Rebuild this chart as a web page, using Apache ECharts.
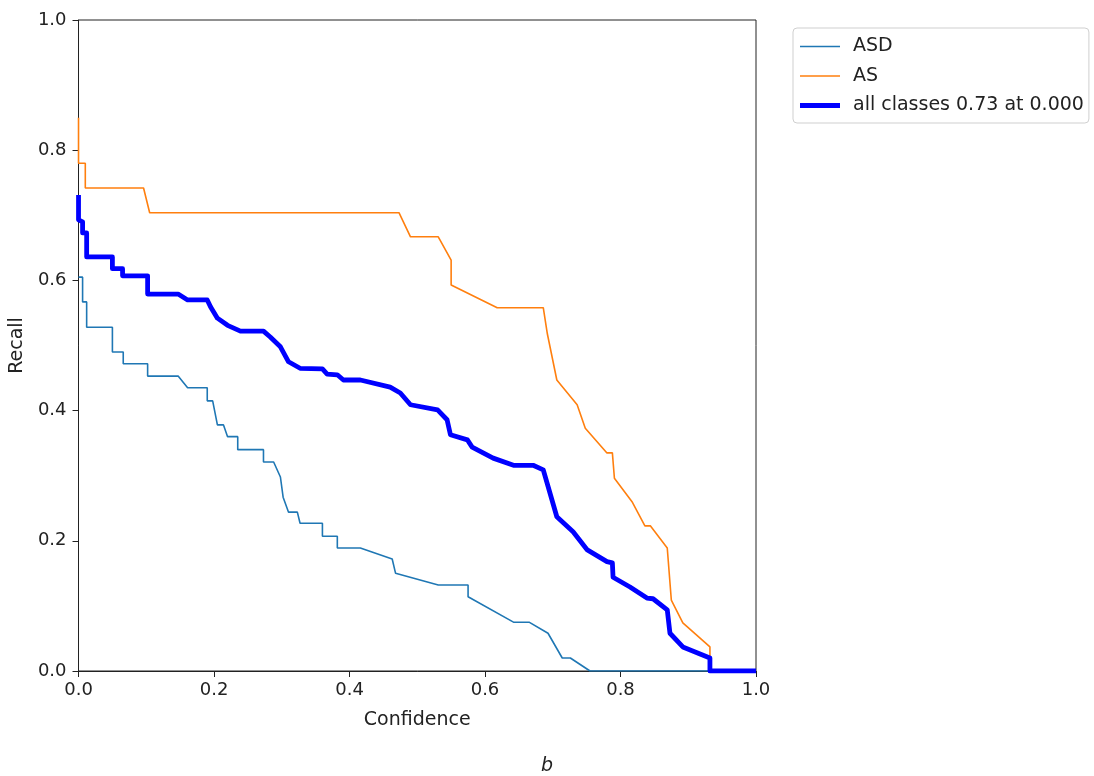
<!DOCTYPE html>
<html>
<head>
<meta charset="UTF-8">
<title>Recall-Confidence</title>
<script src="https://cdn.jsdelivr.net/npm/echarts@6/dist/echarts.min.js"></script>
<style>
  html, body { margin: 0; padding: 0; background: #fff; }
  #main { width: 1094px; height: 776px; }
</style>
</head>
<body>
<div id="main"></div>
<script type="text/javascript">
// data: [confidence, recall]
var asdData = [
  [0, 0.605], [0.006, 0.605], [0.006, 0.567], [0.012, 0.567], [0.012, 0.528],
  [0.050, 0.528], [0.050, 0.490], [0.066, 0.490], [0.066, 0.472], [0.102, 0.472],
  [0.102, 0.453], [0.147, 0.453], [0.161, 0.435], [0.190, 0.435], [0.190, 0.415],
  [0.198, 0.415], [0.205, 0.378], [0.214, 0.378], [0.220, 0.360], [0.235, 0.360],
  [0.235, 0.340], [0.273, 0.340], [0.273, 0.321], [0.288, 0.321], [0.298, 0.298],
  [0.302, 0.267], [0.310, 0.244], [0.323, 0.244], [0.327, 0.227], [0.360, 0.227],
  [0.360, 0.207], [0.382, 0.207], [0.382, 0.189], [0.416, 0.189], [0.463, 0.172],
  [0.468, 0.150], [0.531, 0.132], [0.575, 0.132], [0.575, 0.114], [0.642, 0.075],
  [0.665, 0.075], [0.693, 0.058], [0.714, 0.020], [0.726, 0.020], [0.755, 0],
  [1, 0]
];
var asData = [
  [0, 0.85], [0, 0.78], [0.010, 0.78], [0.010, 0.742], [0.096, 0.742],
  [0.105, 0.704], [0.473, 0.704], [0.490, 0.667], [0.531, 0.667], [0.550, 0.631],
  [0.550, 0.593], [0.618, 0.558], [0.686, 0.558], [0.692, 0.518], [0.706, 0.447],
  [0.736, 0.409], [0.748, 0.373], [0.780, 0.335], [0.788, 0.335], [0.791, 0.296],
  [0.817, 0.260], [0.836, 0.223], [0.844, 0.223], [0.869, 0.189], [0.875, 0.109],
  [0.892, 0.074], [0.932, 0.037], [0.932, 0], [1, 0]
];
var allData = [
  [0, 0.731], [0, 0.693], [0.006, 0.690], [0.006, 0.673], [0.012, 0.673],
  [0.012, 0.636], [0.050, 0.636], [0.050, 0.618], [0.065, 0.618], [0.065, 0.607],
  [0.102, 0.607], [0.102, 0.579], [0.147, 0.579], [0.161, 0.570], [0.190, 0.570],
  [0.195, 0.559], [0.205, 0.542], [0.220, 0.531], [0.239, 0.522], [0.273, 0.522],
  [0.283, 0.513], [0.298, 0.498], [0.310, 0.475], [0.327, 0.465], [0.360, 0.464],
  [0.367, 0.456], [0.382, 0.455], [0.391, 0.447], [0.416, 0.447], [0.460, 0.436],
  [0.475, 0.427], [0.490, 0.409], [0.530, 0.401], [0.544, 0.386], [0.549, 0.363],
  [0.574, 0.355], [0.581, 0.344], [0.612, 0.327], [0.642, 0.316], [0.671, 0.316],
  [0.686, 0.309], [0.706, 0.237], [0.730, 0.214], [0.751, 0.186], [0.780, 0.168],
  [0.788, 0.166], [0.789, 0.144], [0.814, 0.129], [0.839, 0.112], [0.848, 0.111],
  [0.869, 0.094], [0.873, 0.058], [0.892, 0.037], [0.932, 0.020], [0.932, 0],
  [1, 0]
];
var seriesNames = ['ASD', 'AS', 'all classes 0.73 at 0.000'];
var seriesColors = ['#1f77b4', '#ff7f0e', '#0000ff'];

var myChart = echarts.init(document.getElementById('main'));
var font = 'DejaVu Sans';
var tickFmt = function (v) { return v.toFixed(1); };
// legend keys drawn as plain line strokes (thin / thick)
var thinKey = 'path://M0,0L40,0L40,1.6L0,1.6Z';
var thickKey = 'path://M0,0L40,0L40,5L0,5Z';

var option = {
  animation: false,
  textStyle: { fontFamily: font },
  title: {
    text: 'b',
    left: 536, top: 752,
    textStyle: { fontFamily: font, fontSize: 19, fontStyle: 'italic', fontWeight: 'normal', color: '#222' }
  },
  legend: {
    orient: 'vertical',
    left: 793, top: 28,
    padding: [9, 5, 8, 7],
    itemWidth: 40, itemHeight: 12, itemGap: 10.5,
    symbolKeepAspect: true,
    itemStyle: { borderWidth: 0 },
    borderColor: '#cfcfcf', borderWidth: 1, borderRadius: 4,
    textStyle: { fontFamily: font, fontSize: 19, color: '#222', padding: [0, 0, 0, 8] },
    data: [
      { name: seriesNames[0], icon: thinKey },
      { name: seriesNames[1], icon: thinKey },
      { name: seriesNames[2], icon: thickKey }
    ]
  },
  grid: { left: 78, top: 20, right: 338, bottom: 105, show: true, borderColor: '#222', borderWidth: 1 },
  xAxis: {
    type: 'value', min: 0, max: 1, interval: 0.2,
    name: 'Confidence', nameLocation: 'middle', nameGap: 40,
    nameTextStyle: { fontFamily: font, fontSize: 19, color: '#222' },
    axisLine: { show: true, onZero: false, lineStyle: { color: '#222' } },
    axisTick: { show: true, length: 6, lineStyle: { color: '#222' } },
    axisLabel: { formatter: tickFmt, fontFamily: font, fontSize: 18, color: '#222', margin: 10 },
    splitLine: { show: false }
  },
  yAxis: {
    type: 'value', min: 0, max: 1, interval: 0.2,
    name: 'Recall', nameLocation: 'middle', nameGap: 47,
    nameTextStyle: { fontFamily: font, fontSize: 19, color: '#222' },
    axisLine: { show: true, onZero: false, lineStyle: { color: '#222' } },
    axisTick: { show: true, length: 6, lineStyle: { color: '#222' } },
    axisLabel: { formatter: tickFmt, fontFamily: font, fontSize: 18, color: '#222', margin: 12 },
    splitLine: { show: false }
  },
  series: [
    { name: seriesNames[0], type: 'line', data: asdData, symbol: 'none',
      lineStyle: { color: seriesColors[0], width: 1.6 }, itemStyle: { color: seriesColors[0] } },
    { name: seriesNames[1], type: 'line', data: asData, symbol: 'none',
      lineStyle: { color: seriesColors[1], width: 1.6 }, itemStyle: { color: seriesColors[1] } },
    { name: seriesNames[2], type: 'line', data: allData, symbol: 'none',
      lineStyle: { color: seriesColors[2], width: 4.8, join: 'round' }, itemStyle: { color: seriesColors[2] } }
  ]
};
myChart.setOption(option);
</script>
</body>
</html>
